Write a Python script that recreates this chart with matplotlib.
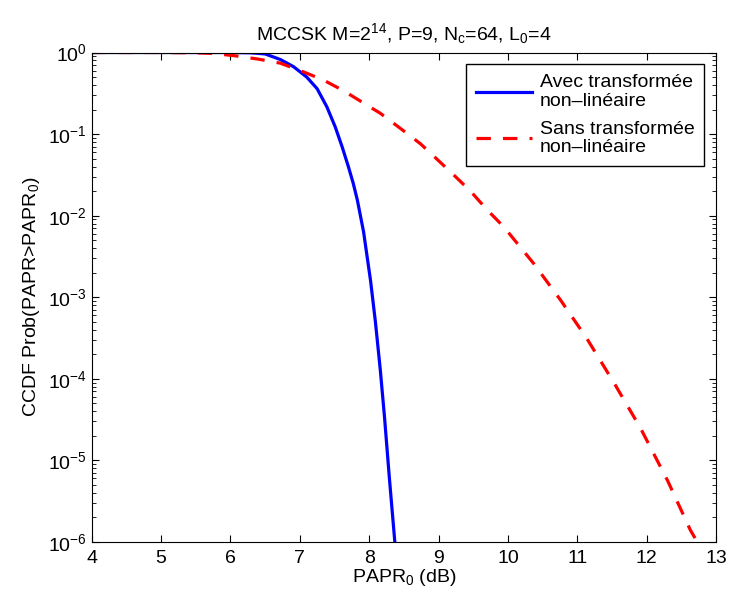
import matplotlib.pyplot as plt

plt.rcParams['font.family'] = ['Liberation Sans', 'DejaVu Sans']
plt.rcParams['mathtext.fontset'] = 'custom'
plt.rcParams['mathtext.rm'] = 'Liberation Sans'
plt.rcParams['mathtext.it'] = 'Liberation Sans'
plt.rcParams['mathtext.default'] = 'regular'

# values
papr_avec = [4.0, 5.0, 6.0, 6.3, 6.5, 6.72, 6.91, 7.10, 7.25, 7.39, 7.51, 7.61,
             7.70, 7.77, 7.83, 7.92, 8.02, 8.09, 8.16, 8.22, 8.29, 8.37, 8.39]
ccdf_avec = [1.0, 1.0, 0.999, 0.99, 0.96, 0.82, 0.67, 0.50, 0.36, 0.216, 0.123, 0.070,
             0.040, 0.025, 0.0155, 6.3e-3, 1.6e-3, 5e-4, 1.3e-4, 3.5e-5, 6.3e-6, 1e-6, 8e-7]

papr_sans = [4.0, 5.0, 5.5, 5.75, 6.07, 6.4, 6.72, 7.05, 7.34, 7.63, 7.92, 8.16,
             8.47, 8.74, 8.98, 9.22, 9.46, 9.70, 9.94, 10.37, 10.76, 11.14,
             11.53, 11.91, 12.30, 12.63, 12.73, 12.78]
ccdf_sans = [1.0, 1.0, 0.99, 0.975, 0.91, 0.83, 0.74, 0.58, 0.46, 0.34, 0.24, 0.18,
             0.114, 0.076, 0.049, 0.0315, 0.020, 0.0118, 7.3e-3, 2.6e-3, 9.2e-4, 3.1e-4,
             8.9e-5, 2.5e-5, 5.7e-6, 1.4e-6, 1e-6, 7e-7]

labels = ['Avec transformée\nnon\u2013linéaire', 'Sans transformée\nnon\u2013linéaire']

fig = plt.figure(figsize=(7.31, 6.0), dpi=100)
ax = fig.add_axes([0.1254, 0.0967, 0.9795 - 0.1254, 0.9125 - 0.0967])

ax.semilogy(papr_avec, ccdf_avec, color='#0000ff', lw=2.3, label=labels[0])
ax.semilogy(papr_sans, ccdf_sans, color='#ff0000', lw=2.3, dashes=(4.5, 3.8), label=labels[1])

ax.set_xlim(4, 13)
ax.set_ylim(1e-6, 1)
ax.set_xticks(range(4, 14))
ax.tick_params(which='both', direction='in', top=True, right=True, labelsize=14)
ax.tick_params(which='major', length=5)
ax.tick_params(which='minor', length=3)
ax.tick_params(axis='x', pad=6)

ax.set_xlabel('PAPR$_0$ (dB)', fontsize=14, labelpad=0)
ax.set_ylabel('CCDF Prob(PAPR>PAPR$_0$)', fontsize=14, labelpad=4)
ax.set_title('MCCSK M=2$^{14}$, P=9, N$_c$=64, L$_0$=4', fontsize=14, pad=9)

leg = ax.legend(loc='upper right', fontsize=14, fancybox=False, framealpha=1,
                edgecolor='black', handlelength=2.9, borderaxespad=0.6,
                labelspacing=0.55, handletextpad=0.4, borderpad=0.5)
leg.get_frame().set_linewidth(1.0)
for t in leg.get_texts():
    t.set_linespacing(1.15)

fig.savefig('out.png', dpi=100)
